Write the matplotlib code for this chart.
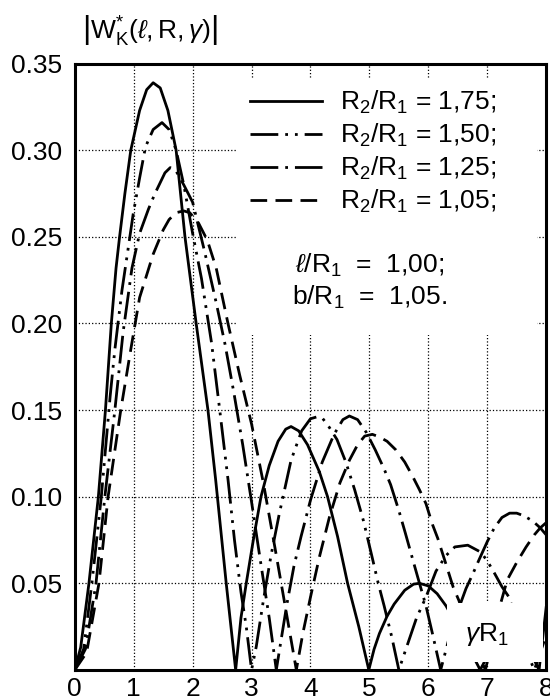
import matplotlib
matplotlib.use("Agg")
import matplotlib.pyplot as plt
from matplotlib.patches import Rectangle

# ---------------------------------------------------------
# DATA
# ---------------------------------------------------------
x_ticks = [0, 1, 2, 3, 4, 5, 6, 7, 8]
y_ticks = [0, 0.05, 0.10, 0.15, 0.20, 0.25, 0.30, 0.35]
y_tick_labels = ["", "0.05", "0.10", "0.15", "0.20", "0.25", "0.30", "0.35"]

labels = [r"R$_2$/R$_1$ = 1,75;", r"R$_2$/R$_1$ = 1,50;",
          r"R$_2$/R$_1$ = 1,25;", r"R$_2$/R$_1$ = 1,05;"]

# R2/R1 = 1.75
g_175 = [0, 0.1, 0.24, 0.4, 0.52, 0.62, 0.7, 0.76, 0.85, 0.95,
         1.1, 1.22, 1.33, 1.45, 1.58, 1.72, 1.87, 2.06, 2.26, 2.39,
         2.57, 2.73, 2.82, 2.91, 3.03, 3.16, 3.3, 3.45, 3.58, 3.67,
         3.8, 3.95, 4.15, 4.29, 4.46, 4.63, 4.82, 4.99, 5.08, 5.17,
         5.3, 5.42, 5.6, 5.75, 5.85, 6.0, 6.15, 6.3, 6.5, 6.7,
         6.88, 7.1, 7.4, 7.65, 7.88, 8.0]
w_175 = [0, 0.013, 0.05, 0.10, 0.15, 0.20, 0.232, 0.25, 0.275, 0.30,
         0.323, 0.335, 0.339, 0.336, 0.323, 0.30, 0.25, 0.20, 0.15, 0.11,
         0.05, 0, 0.03, 0.05, 0.075, 0.10, 0.118, 0.132, 0.139, 0.1405,
         0.138, 0.13, 0.1145, 0.10, 0.077, 0.05, 0.025, 0, 0.012, 0.021,
         0.031, 0.038, 0.046, 0.0495, 0.05, 0.0485, 0.044, 0.037, 0.025, 0.012,
         0, 0.014, 0.024, 0.016, 0, 0.036]

# R2/R1 = 1.50
g_150 = [0, 0.15, 0.29, 0.45, 0.6, 0.68, 0.8, 0.9, 0.99, 1.1,
         1.2, 1.33, 1.48, 1.6, 1.72, 1.85, 2.0, 2.15, 2.32, 2.46,
         2.6, 2.71, 2.82, 2.91, 3.0, 3.08, 3.2, 3.33, 3.47, 3.67,
         3.85, 4.0, 4.1, 4.2, 4.32, 4.45, 4.6, 4.75, 4.9, 5.04,
         5.15, 5.25, 5.38, 5.5, 5.65, 5.8, 5.96, 6.13, 6.3, 6.45,
         6.67, 6.89, 7.0, 7.12, 7.25, 7.37, 7.5, 7.65, 7.8, 8.0]
w_150 = [0, 0.012, 0.05, 0.10, 0.158, 0.185, 0.219, 0.242, 0.263, 0.284,
         0.302, 0.312, 0.316, 0.312, 0.30, 0.28, 0.252, 0.226, 0.189, 0.15,
         0.11, 0.075, 0.045, 0.025, 0, 0.0135, 0.04, 0.066, 0.09, 0.121,
         0.138, 0.145, 0.146, 0.1455, 0.14, 0.133, 0.12, 0.104, 0.086, 0.066,
         0.05, 0.037, 0.019, 0, 0.015, 0.03, 0.042, 0.057, 0.066, 0.071,
         0.072, 0.068, 0.063, 0.056, 0.048, 0.042, 0.028, 0.012, 0, 0.02]

# R2/R1 = 1.25
g_125 = [0, 0.18, 0.36, 0.51, 0.68, 0.82, 0.97, 1.1, 1.25, 1.36,
         1.53, 1.62, 1.72, 1.85, 2.0, 2.2, 2.4, 2.55, 2.7, 2.85,
         3.0, 3.15, 3.3, 3.42, 3.5, 3.6, 3.72, 3.84, 4.0, 4.2,
         4.4, 4.55, 4.66, 4.8, 4.95, 5.1, 5.25, 5.36, 5.5, 5.61,
         5.75, 5.85, 5.96, 6.07, 6.21, 6.35, 6.5, 6.64, 6.75, 6.86,
         7.0, 7.12, 7.25, 7.38, 7.5, 7.62, 7.77, 7.9, 8.0]
w_125 = [0, 0.012, 0.05, 0.10, 0.15, 0.195, 0.232, 0.252, 0.266, 0.275,
         0.287, 0.29, 0.288, 0.28, 0.27, 0.242, 0.212, 0.188, 0.16, 0.13,
         0.097, 0.063, 0.03, 0, 0.017, 0.038, 0.06, 0.077, 0.098, 0.12,
         0.136, 0.1445, 0.1466, 0.1445, 0.137, 0.127, 0.116, 0.107, 0.092, 0.079,
         0.062, 0.05, 0.037, 0.021, 0, 0.018, 0.034, 0.047, 0.055, 0.0635,
         0.074, 0.082, 0.088, 0.0905, 0.0905, 0.089, 0.086, 0.082, 0.078]

# R2/R1 = 1.05
g_105 = [0, 0.2, 0.41, 0.565, 0.78, 0.95, 1.1, 1.33, 1.5, 1.6,
         1.72, 1.85, 1.95, 2.1, 2.25, 2.4, 2.6, 2.8, 3.0, 3.2,
         3.4, 3.58, 3.76, 3.87, 4.0, 4.15, 4.32, 4.5, 4.66, 4.8,
         4.92, 5.05, 5.17, 5.3, 5.45, 5.6, 5.73, 5.85, 5.96, 6.07,
         6.16, 6.3, 6.42, 6.52, 6.65, 6.8, 6.97, 7.1, 7.2, 7.34,
         7.5, 7.66, 7.8, 7.9, 8.0]
w_105 = [0, 0.01, 0.05, 0.10, 0.15, 0.185, 0.215, 0.24, 0.254, 0.26,
         0.264, 0.265, 0.264, 0.258, 0.248, 0.232, 0.2, 0.17, 0.142, 0.108,
         0.07, 0.035, 0, 0.021, 0.042, 0.065, 0.088, 0.108, 0.121, 0.13,
         0.135, 0.136, 0.1345, 0.132, 0.127, 0.12, 0.112, 0.104, 0.096, 0.084,
         0.076, 0.061, 0.048, 0.04, 0.027, 0.013, 0, 0.02, 0.035, 0.052,
         0.062, 0.071, 0.078, 0.082, 0.085]

# ---------------------------------------------------------
# FONTS
# ---------------------------------------------------------
plt.rcParams['font.family'] = ['Liberation Sans', 'DejaVu Sans']
plt.rcParams['mathtext.fontset'] = 'custom'
plt.rcParams['mathtext.rm'] = 'Liberation Sans'
plt.rcParams['mathtext.it'] = 'Liberation Sans:italic'
plt.rcParams['mathtext.sf'] = 'Liberation Sans'
fs = 19
plt.rcParams['font.size'] = fs

# ---------------------------------------------------------
# FIGURE
# ---------------------------------------------------------
fig = plt.figure(figsize=(5.5, 7), dpi=100)
ax = fig.add_axes([0.136, 0.043, 0.857, 0.866])

lw = 2.0
ax.plot(g_175, w_175, color='black', lw=lw, ls='-', label=labels[0])
ax.plot(g_150, w_150, color='black', lw=lw, ls=(0, (10, 2.5, 1, 2.5, 1, 2.5)), label=labels[1])
ax.plot(g_125, w_125, color='black', lw=lw, ls=(0, (10, 2.5, 1, 2.5)), label=labels[2])
ax.plot(g_105, w_105, color='black', lw=lw, ls=(0, (6, 3)), label=labels[3])

ax.set_xlim(0, 8)
ax.set_ylim(0, 0.35)
ax.set_xticks(x_ticks)
ax.set_yticks(y_ticks)
ax.set_yticklabels(y_tick_labels)
ax.tick_params(axis='both', length=0, labelsize=fs)
ax.tick_params(axis='x', pad=5)
ax.tick_params(axis='y', pad=9)

ax.set_axisbelow(True)
ax.grid(True, ls=':', color='black', lw=0.9)
for s in ax.spines.values():
    s.set_linewidth(2.2)

# white area behind the legend block (hides the grid there)
ax.add_patch(Rectangle((0.344, 0.553), 0.637, 0.424, transform=ax.transAxes,
                       facecolor='white', edgecolor='none', zorder=1.5))

leg = ax.legend(loc='upper left', bbox_to_anchor=(0.372, 0.958), frameon=False,
                handlelength=2.73, handletextpad=0.68, labelspacing=0.22,
                borderpad=0, borderaxespad=0, fontsize=fs)

ax.text(0.626, 0.668, r"$\ell$/R$_1$  =  1,00;", transform=ax.transAxes,
        ha='center', va='center', fontsize=fs, zorder=4)
ax.text(0.626, 0.614, r"b/R$_1$  =  1,05.", transform=ax.transAxes,
        ha='center', va='center', fontsize=fs, zorder=4)

# white box with the axis name in the lower right corner
ax.add_patch(Rectangle((0.79, 0.013), 0.204, 0.098, transform=ax.transAxes,
                       facecolor='white', edgecolor='none', zorder=3))
ax.text(0.875, 0.058, r"$\gamma$R$_1$", transform=ax.transAxes,
        ha='center', va='center', fontsize=fs, zorder=4)

fig.text(0.273, 0.957, r"$\left|\mathrm{W}^{*}_{\mathrm{K}}(\ell,\mathrm{R},\gamma)\right|$",
         ha='center', va='center', fontsize=fs)

fig.savefig("out.png", dpi=100)
